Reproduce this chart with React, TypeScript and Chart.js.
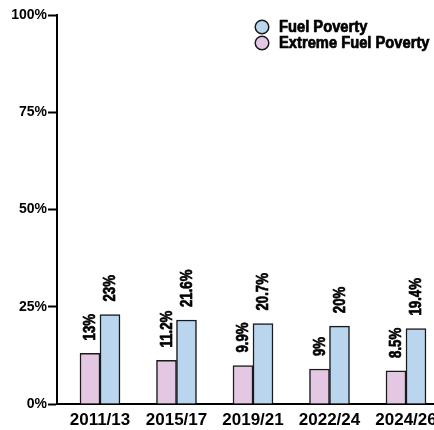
import React, { useEffect, useRef } from "react";
import { Chart, registerables } from "chart.js";

Chart.register(...registerables);

const categories = ["2011/13", "2015/17", "2019/21", "2022/24", "2024/26"];
const extremeFuelPoverty = [13, 11.2, 9.9, 9, 8.5];
const fuelPoverty = [23, 21.6, 20.7, 20, 19.4];
const yTicks = [0, 25, 50, 75, 100];

const FONT = "'Liberation Sans', Arial, sans-serif";
const BLUE = "#bad5ee";
const PINK = "#e4c8e3";
const EDGE = "#1a1a1a";
const TEXT = "#000";

const legendItems = [
  { label: "Fuel Poverty", color: BLUE },
  { label: "Extreme Fuel Poverty", color: PINK },
];

function heavyText(ctx: any, s: string, x: number, y: number) {
  ctx.fillText(s, x, y);
  ctx.lineWidth = 0.7;
  ctx.strokeStyle = TEXT;
  ctx.lineJoin = "round";
  ctx.strokeText(s, x, y);
}

const valueLabels = {
  id: "valueLabels",
  afterDatasetsDraw(chart: any) {
    const ctx = chart.ctx;
    ctx.save();
    ctx.font = `bold 16.5px ${FONT}`;
    ctx.fillStyle = TEXT;
    ctx.textAlign = "left";
    ctx.textBaseline = "middle";
    chart.data.datasets.forEach((ds: any, di: number) => {
      const meta = chart.getDatasetMeta(di);
      meta.data.forEach((bar: any, i: number) => {
        const v = ds.data[i].y;
        ctx.save();
        ctx.translate(bar.x + 0.5, bar.y - 13);
        ctx.rotate(-Math.PI / 2);
        ctx.scale(0.8, 1);
        heavyText(ctx, `${v}%`, 0, 0);
        ctx.restore();
      });
    });
    ctx.restore();
  },
};

const customLegend = {
  id: "customLegend",
  afterDraw(chart: any) {
    const ctx = chart.ctx;
    ctx.save();
    ctx.font = `bold 16px ${FONT}`;
    ctx.textAlign = "left";
    ctx.textBaseline = "middle";
    legendItems.forEach((it, i) => {
      const cy = 27 + i * 16;
      ctx.beginPath();
      ctx.arc(262, cy, 6.8, 0, Math.PI * 2);
      ctx.fillStyle = it.color;
      ctx.fill();
      ctx.lineWidth = 1.5;
      ctx.strokeStyle = EDGE;
      ctx.stroke();
      ctx.save();
      ctx.translate(279, cy + 1);
      ctx.scale(0.92, 1);
      ctx.fillStyle = TEXT;
      heavyText(ctx, it.label, 0, 0);
      ctx.restore();
    });
    ctx.restore();
  },
};

export default function App() {
  const ref = useRef<HTMLCanvasElement>(null);
  useEffect(() => {
    if (!ref.current) return;
    const chart = new Chart(ref.current, {
      type: "bar",
      data: {
        datasets: [
          {
            label: "Extreme Fuel Poverty",
            data: extremeFuelPoverty.map((y, x) => ({ x, y })),
            backgroundColor: PINK,
            borderColor: EDGE,
            borderWidth: 1.5,
            barThickness: 20,
          },
          {
            label: "Fuel Poverty",
            data: fuelPoverty.map((y, x) => ({ x, y })),
            backgroundColor: BLUE,
            borderColor: EDGE,
            borderWidth: 1.5,
            barThickness: 20,
          },
        ],
      },
      options: {
        responsive: false,
        animation: false,
        layout: { padding: { top: 15, right: 0, bottom: 0, left: 0 } },
        plugins: {
          legend: { display: false },
          tooltip: { enabled: false },
        },
        scales: {
          x: {
            type: "linear",
            min: -0.562,
            max: 4.706,
            offset: false,
            grid: { display: false, drawTicks: false },
            border: { display: true, color: "#000", width: 2 },
            afterFit: (s: any) => {
              s.height = 26;
            },
            ticks: {
              stepSize: 1,
              includeBounds: false,
              autoSkip: false,
              maxRotation: 0,
              padding: 6,
              color: TEXT,
              font: { family: FONT, size: 17, weight: "bold" },
              callback: (v: any) => categories[v] ?? "",
            },
          },
          y: {
            min: 0,
            max: 100,
            afterFit: (s: any) => {
              s.width = 57;
            },
            afterBuildTicks: (s: any) => {
              s.ticks = yTicks.map((value) => ({ value }));
            },
            grid: {
              display: true,
              drawOnChartArea: false,
              drawTicks: true,
              tickLength: 9,
              tickWidth: 2,
              color: "#000",
            },
            border: { display: true, color: "#000", width: 2 },
            ticks: {
              padding: 1,
              color: TEXT,
              font: { family: FONT, size: 14, weight: "bold" },
              callback: (v: any) => `${v}%`,
            },
          },
        },
      },
      plugins: [valueLabels, customLegend],
    } as any);
    return () => chart.destroy();
  }, []);
  return (
    <div
      style={{
        position: "fixed",
        left: 0,
        top: 0,
        width: 434,
        height: 430,
        overflow: "hidden",
        background: "#fff",
      }}
    >
      <canvas ref={ref} width={460} height={430} style={{ display: "block" }} />
    </div>
  );
}
